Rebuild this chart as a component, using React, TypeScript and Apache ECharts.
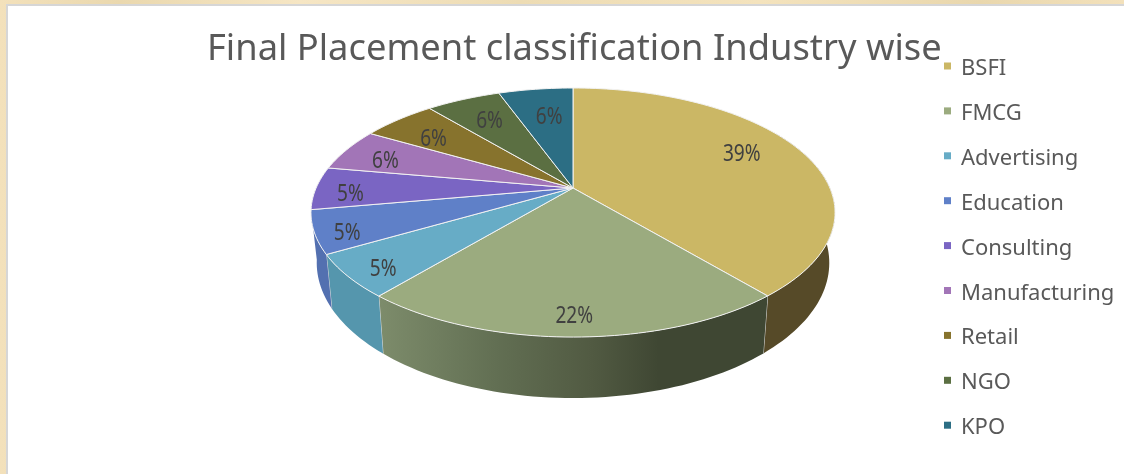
import React, { useEffect, useRef } from "react";
import * as echarts from "echarts";

const categories = ["BSFI", "FMCG", "Advertising", "Education", "Consulting", "Manufacturing", "Retail", "NGO", "KPO"];
const shares = [38.89, 22.22, 5.56, 5.56, 5.56, 5.56, 5.56, 5.56, 5.56];
const percentLabels = ["39%", "22%", "5%", "5%", "5%", "6%", "6%", "6%", "6%"];
const titleText = "Final Placement classification Industry wise";

const topColors = ["#cbb765", "#9bab7f", "#67acc6", "#5f80c8", "#7a65c3", "#a275b7", "#87732d", "#5b6f42", "#2c6e84"];
const wallColors = ["#564a28", "#5a6449", "#5596ad", "#5370b0", "#5a4a95", "#7a5590", "#5f5220", "#43512f", "#1f5263"];
const labelRadius = [0.72, 0.88, 0.86, 0.88, 0.87, 0.82, 0.76, 0.73, 0.71];
const labelNudgeX = [3, 1, 0, 0, 1, 0, -3, 0, 4];
const labelNudgeY = [-8, -2, 4, 4, 4, 3, 2, -2, 0];

// perspective disc geometry
const CX = 573, CY = 188, K = 0.197, RX = 256.9, RY = 119.7;
const WALL_SX = 0.978, WALL_SY = 1.085, WALL_Y = 236.3;

const total = shares.reduce((a, b) => a + b, 0);
const sliceRange = (i: number): [number, number] => {
  const before = shares.slice(0, i).reduce((a, b) => a + b, 0);
  return [(before / total) * 360, ((before + shares[i]) / total) * 360];
};
const project = (deg: number, r = 1): [number, number] => {
  const t = (deg * Math.PI) / 180;
  const u = Math.sin(t) * r, v = -Math.cos(t) * r, w = 1 - K * v;
  return [CX + (RX * u) / w, CY + (RY * v) / w];
};
const projectLow = (deg: number): [number, number] => {
  const [x, y] = project(deg);
  return [CX + (x - CX) * WALL_SX, WALL_Y + (y - CY) * WALL_SY];
};
const arc = (a: number, b: number, fn: (d: number) => [number, number]) => {
  const n = Math.max(2, Math.ceil(Math.abs(b - a) / 1.5));
  const pts: [number, number][] = [];
  for (let i = 0; i <= n; i++) pts.push(fn(a + ((b - a) * i) / n));
  return pts;
};

const fmcgWall = () =>
  new echarts.graphic.LinearGradient(0, 0, 1, 0, [
    { offset: 0, color: "#7d8c6b" },
    { offset: 0.3, color: "#626f53" },
    { offset: 0.55, color: "#515a42" },
    { offset: 0.72, color: "#3f4733" },
    { offset: 1, color: "#3f4733" },
  ]);

export default function App() {
  const ref = useRef<HTMLDivElement>(null);
  useEffect(() => {
    const chart = echarts.init(ref.current!, undefined, { renderer: "svg" });
    const wallSeries = {
      type: "custom",
      coordinateSystem: "none",
      silent: true,
      z: 1,
      data: categories.map((_, i) => sliceRange(i)),
      renderItem: (params: any, api: any) => {
        const a = Math.max(api.value(0), 60), end = api.value(1), b = Math.min(end, 260);
        if (b <= a) return { type: "group", children: [] };
        const i = params.dataIndex;
        const up = arc(a, b, (d) => project(d));
        const low = arc(b, a, projectLow);
        const children: any[] = [
          { type: "polygon", shape: { points: [...up, ...low] }, style: { fill: i === 1 ? fmcgWall() : wallColors[i], stroke: "none" } },
        ];
        if (b < 255) children.push({ type: "polyline", shape: { points: [project(b), projectLow(b)] }, style: { stroke: "#dcdcdc", lineWidth: 1, fill: "none" } });
        return { type: "group", children };
      },
    };
    const topSeries = categories.map((name, i) => ({
      type: "custom",
      name,
      coordinateSystem: "none",
      silent: true,
      z: 2,
      itemStyle: { color: topColors[i] },
      data: [sliceRange(i)],
      renderItem: (_: any, api: any) => {
        const a = api.value(0), b = api.value(1);
        const [lx, ly] = project((a + b) / 2, labelRadius[i]);
        return {
          type: "group",
          children: [
            {
              type: "polygon",
              shape: { points: [[CX, CY], ...arc(a, b, (d) => project(d))] },
              style: { fill: topColors[i], stroke: "#f2f2f2", lineWidth: 1 },
            },
            {
              type: "text",
              z2: 10,
              x: lx + labelNudgeX[i],
              y: ly + labelNudgeY[i],
              scaleX: 0.83,
              style: { text: percentLabels[i], fill: "#404040", fontFamily: "Noto Sans", fontSize: 23, align: "center", verticalAlign: "middle" },
            },
          ],
        };
      },
    }));
    chart.setOption({
      animation: false,
      title: {
        text: titleText,
        left: 207,
        top: 28,
        padding: 0,
        textStyle: { color: "#595959", fontFamily: "Noto Sans", fontSize: 36.3, fontWeight: "normal" },
      },
      legend: {
        data: categories,
        orient: "vertical",
        left: 944,
        top: 53,
        padding: 0,
        icon: "rect",
        itemWidth: 7,
        itemHeight: 7,
        itemGap: 18.9,
        selectedMode: false,
        textStyle: { color: "#595959", fontFamily: "Noto Sans", fontSize: 22, lineHeight: 26, padding: [0, 0, 0, 5] },
      },
      graphic: [
        { type: "rect", z: -1, shape: { x: 6, y: 4, width: 1118, height: 470 }, style: { fill: "#d6d6d6" } },
        { type: "rect", z: -1, shape: { x: 8, y: 6, width: 1116, height: 468 }, style: { fill: "#ffffff" } },
      ],
      series: [wallSeries, ...topSeries],
    });
    return () => chart.dispose();
  }, []);
  return (
    <div
      style={{
        position: "absolute",
        left: 0,
        top: 0,
        width: 1124,
        height: 474,
        overflow: "hidden",
        background: "linear-gradient(90deg,#f3e1bb 0,#ead8ae 120px,#f6e6c4 300px,#eddcb4 520px,#f4e3bd 760px,#e9d7ad 980px,#f3e1bb 1124px)",
      }}
    >
      <div ref={ref} style={{ width: 1124, height: 474, filter: "blur(0.4px)" }} />
    </div>
  );
}
